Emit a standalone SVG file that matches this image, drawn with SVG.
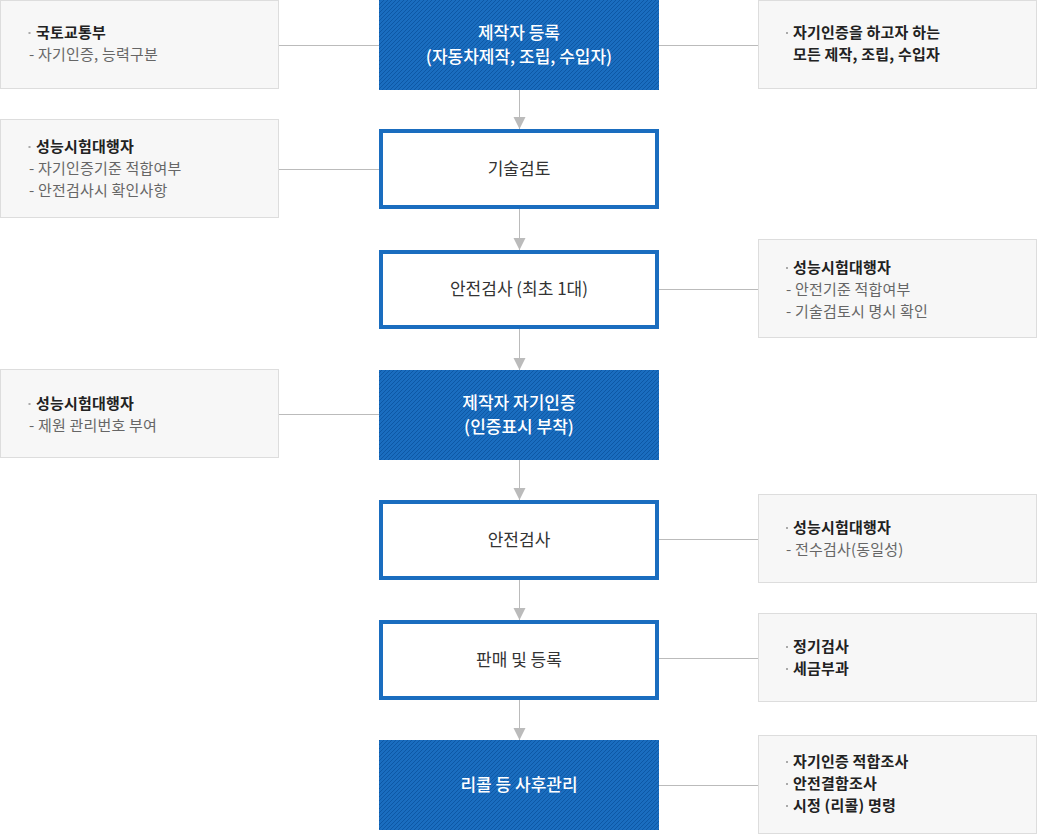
<svg xmlns="http://www.w3.org/2000/svg" width="1038" height="835" viewBox="0 0 1038 835">
<defs>
<pattern id="hatch" patternUnits="userSpaceOnUse" width="4" height="4">
<rect width="4" height="4" fill="#1a6dbf"/>
<path d="M-1,1 l2,-2 M0,4 l4,-4 M3,5 l2,-2" stroke="#0d58a5" stroke-width="1"/>
</pattern>
<marker id="arr" markerUnits="userSpaceOnUse" markerWidth="12" markerHeight="13" refX="12" refY="6" orient="auto">
<path d="M0,0 L12,6 L0,12 Z" fill="#bbbbbb"/>
</marker>
</defs>
<style>
text{font-family:"Noto Sans CJK KR","Noto Sans",sans-serif;}
.note rect.bg{fill:#f7f7f7;stroke:#dddddd;stroke-width:1;}
.note .b{font-size:15px;font-weight:700;fill:#222222;letter-spacing:0.2px;}
.note .r{font-size:15px;fill:#666666;letter-spacing:0.2px;}
.note rect.dot{fill:#aaaaaa;stroke:none;}
.fill rect{fill:url(#hatch);}
.fill text{font-size:17px;font-weight:500;fill:#ffffff;text-anchor:middle;}
.out rect{fill:#ffffff;stroke:#1a6dbf;stroke-width:4;}
.out text{font-size:17px;fill:#333333;text-anchor:middle;}
.con line{stroke:#bbbbbb;stroke-width:1;}
</style>

<g id="connectors" class="con">
<line x1="279" y1="45.5" x2="379" y2="45.5"/>
<line x1="659" y1="45.5" x2="758" y2="45.5"/>
<line x1="279" y1="169.5" x2="379" y2="169.5"/>
<line x1="659" y1="289.5" x2="758" y2="289.5"/>
<line x1="279" y1="414.5" x2="379" y2="414.5"/>
<line x1="659" y1="539.5" x2="758" y2="539.5"/>
<line x1="659" y1="658.5" x2="758" y2="658.5"/>
<line x1="659" y1="785.5" x2="758" y2="785.5"/>
<line x1="519.5" y1="90" x2="519.5" y2="129" marker-end="url(#arr)"/>
<line x1="519.5" y1="209" x2="519.5" y2="250" marker-end="url(#arr)"/>
<line x1="519.5" y1="329" x2="519.5" y2="370" marker-end="url(#arr)"/>
<line x1="519.5" y1="460" x2="519.5" y2="500" marker-end="url(#arr)"/>
<line x1="519.5" y1="580" x2="519.5" y2="620" marker-end="url(#arr)"/>
<line x1="519.5" y1="700" x2="519.5" y2="740" marker-end="url(#arr)"/>
</g>

<g id="step1" class="fill">
<rect x="379" y="0" width="280" height="90"/>
<text x="519" y="39">제작자 등록</text>
<text x="519" y="63">(자동차제작, 조립, 수입자)</text>
</g>
<g id="step2" class="out">
<rect x="381" y="131" width="276" height="76"/>
<text x="519" y="175">기술검토</text>
</g>
<g id="step3" class="out">
<rect x="381" y="252" width="276" height="75"/>
<text x="519" y="295">안전검사 (최초 1대)</text>
</g>
<g id="step4" class="fill">
<rect x="379" y="370" width="280" height="90"/>
<text x="519" y="409">제작자 자기인증</text>
<text x="519" y="433">(인증표시 부착)</text>
</g>
<g id="step5" class="out">
<rect x="381" y="502" width="276" height="76"/>
<text x="519" y="546">안전검사</text>
</g>
<g id="step6" class="out">
<rect x="381" y="622" width="276" height="76"/>
<text x="519" y="666">판매 및 등록</text>
</g>
<g id="step7" class="fill">
<rect x="379" y="740" width="280" height="90"/>
<text x="519" y="791">리콜 등 사후관리</text>
</g>

<g id="note-l1" class="note">
<rect class="bg" x="0.5" y="0.5" width="278" height="88"/>
<rect class="dot" x="28.5" y="32" width="2" height="2"/>
<text class="b" x="36" y="38">국토교통부</text>
<text class="r" x="29" y="60">- 자기인증, 능력구분</text>
</g>
<g id="note-l2" class="note">
<rect class="bg" x="0.5" y="119.5" width="278" height="98"/>
<rect class="dot" x="28.5" y="146" width="2" height="2"/>
<text class="b" x="36" y="152">성능시험대행자</text>
<text class="r" x="29" y="174">- 자기인증기준 적합여부</text>
<text class="r" x="29" y="196">- 안전검사시 확인사항</text>
</g>
<g id="note-l3" class="note">
<rect class="bg" x="0.5" y="369.5" width="278" height="88"/>
<rect class="dot" x="28.5" y="403" width="2" height="2"/>
<text class="b" x="36" y="409">성능시험대행자</text>
<text class="r" x="29" y="431">- 제원 관리번호 부여</text>
</g>

<g id="note-r1" class="note">
<rect class="bg" x="758.5" y="0.5" width="278" height="88"/>
<rect class="dot" x="786" y="32" width="2" height="2"/>
<text class="b" x="793" y="38">자기인증을 하고자 하는</text>
<text class="b" x="793" y="60">모든 제작, 조립, 수입자</text>
</g>
<g id="note-r2" class="note">
<rect class="bg" x="758.5" y="239.5" width="278" height="98"/>
<rect class="dot" x="786" y="267" width="2" height="2"/>
<text class="b" x="793" y="273">성능시험대행자</text>
<text class="r" x="786" y="295">- 안전기준 적합여부</text>
<text class="r" x="786" y="317">- 기술검토시 명시 확인</text>
</g>
<g id="note-r3" class="note">
<rect class="bg" x="758.5" y="494.5" width="278" height="88"/>
<rect class="dot" x="786" y="527" width="2" height="2"/>
<text class="b" x="793" y="533">성능시험대행자</text>
<text class="r" x="786" y="555">- 전수검사(동일성)</text>
</g>
<g id="note-r4" class="note">
<rect class="bg" x="758.5" y="613.5" width="278" height="88"/>
<rect class="dot" x="786" y="646" width="2" height="2"/>
<text class="b" x="793" y="652">정기검사</text>
<rect class="dot" x="786" y="668" width="2" height="2"/>
<text class="b" x="793" y="674">세금부과</text>
</g>
<g id="note-r5" class="note">
<rect class="bg" x="758.5" y="735.5" width="278" height="98"/>
<rect class="dot" x="786" y="761" width="2" height="2"/>
<text class="b" x="793" y="767">자기인증 적합조사</text>
<rect class="dot" x="786" y="783" width="2" height="2"/>
<text class="b" x="793" y="789">안전결함조사</text>
<rect class="dot" x="786" y="805" width="2" height="2"/>
<text class="b" x="793" y="811">시정 (리콜) 명령</text>
</g>
</svg>
